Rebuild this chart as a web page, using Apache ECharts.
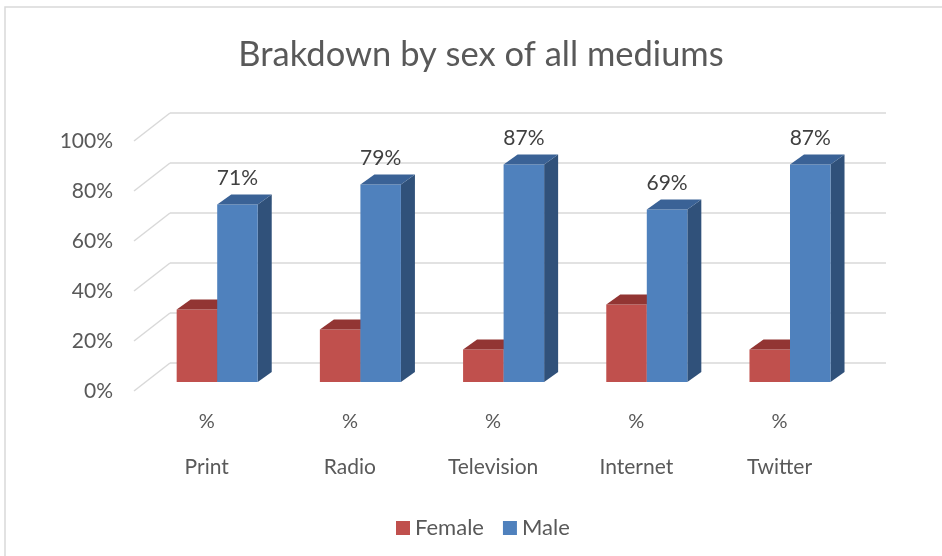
<!DOCTYPE html>
<html>
<head>
<meta charset="utf-8">
<script src="https://cdn.jsdelivr.net/npm/echarts@6/dist/echarts.min.js"></script>
<style>
  html, body { margin: 0; padding: 0; background: #ffffff; }
  #chart { width: 942px; height: 556px; }
</style>
</head>
<body>
<div id="chart"></div>
<script>
// Share of each medium's coverage, by sex (percent)
const categories = ['Print', 'Radio', 'Television', 'Internet', 'Twitter'];
const unitRow = ['%', '%', '%', '%', '%'];
const female = [29, 21, 13, 31, 13];
const male = [71, 79, 87, 69, 87];
const yTicks = [0, 20, 40, 60, 80, 100];

const FONT = 'Lato, "Open Sans", sans-serif';
const TEXT = '#595959';

// Pseudo-3D geometry: the cartesian grid is the plane of the bars' front faces.
const WALL_BACK = [24.4, -19];   // back wall relative to bar plane
const WALL_FRONT = [-11.6, 9];   // front edge of side wall relative to bar plane
const BAR_DEPTH = [14, -10];     // extrusion of each column
const BAR_FRAC = 0.283;          // column width as share of a category band

const FEMALE_COLORS = { front: '#C0504D', top: '#923533', side: '#7A2C2A' };
const MALE_COLORS = { front: '#4F81BD', top: '#3A6296', side: '#30517A' };

function columnRenderer(side, colors, withLabel) {
  return function (params, api) {
    const i = api.value(0);
    const v = api.value(1);
    const top = api.coord([i, v]);
    const base = api.coord([i, 0]);
    const w = api.size([1, 0])[0] * BAR_FRAC;
    const x0 = side === 0 ? top[0] - w : top[0];
    const x1 = x0 + w;
    const yt = top[1];
    const yb = base[1];
    const dx = BAR_DEPTH[0], dy = BAR_DEPTH[1];
    const children = [
      { type: 'polygon', shape: { points: [[x1, yb], [x1, yt], [x1 + dx, yt + dy], [x1 + dx, yb + dy]] },
        style: { fill: colors.side } },
      { type: 'rect', shape: { x: x0, y: yt, width: w, height: yb - yt },
        style: { fill: colors.front } },
      { type: 'polygon', shape: { points: [[x0, yt], [x1, yt], [x1 + dx, yt + dy], [x0 + dx, yt + dy]] },
        style: { fill: colors.top } }
    ];
    if (withLabel) {
      children.push({
        type: 'text',
        style: {
          text: v + '%', x: (x0 + x1) / 2, y: yt - 26,
          align: 'center', verticalAlign: 'middle',
          fontSize: 21, fontFamily: FONT, fill: '#404040'
        }
      });
    }
    return { type: 'group', children: children };
  };
}

// Side wall / back wall gridlines plus the value labels on the front edge
function wallRenderer(params, api) {
  const cs = params.coordSys;
  const v = api.value(1);
  const y = api.coord([0, v])[1];
  const xl = cs.x, xr = cs.x + cs.width;
  const lineStyle = { stroke: '#D9D9D9', lineWidth: 1.5 };
  return {
    type: 'group',
    children: [
      { type: 'line', shape: { x1: xl + WALL_FRONT[0], y1: y + WALL_FRONT[1], x2: xl + WALL_BACK[0], y2: y + WALL_BACK[1] },
        style: lineStyle },
      { type: 'line', shape: { x1: xl + WALL_BACK[0], y1: y + WALL_BACK[1], x2: xr + WALL_BACK[0], y2: y + WALL_BACK[1] },
        style: lineStyle },
      { type: 'text',
        style: {
          text: v + '%', x: xl + WALL_FRONT[0] - 21, y: y + WALL_FRONT[1],
          align: 'right', verticalAlign: 'middle',
          fontSize: 21, fontFamily: FONT, fill: TEXT
        } }
    ]
  };
}

const chart = echarts.init(document.getElementById('chart'), null, { renderer: 'canvas' });

chart.setOption({
  animation: false,
  backgroundColor: '#ffffff',
  graphic: [{
    type: 'rect', silent: true, z: -10,
    shape: { x: 5, y: 7, width: 1000, height: 600 },
    style: { fill: 'none', stroke: '#D9D9D9', lineWidth: 1.5 }
  }],
  title: {
    text: 'Brakdown by sex of all mediums',
    left: 476, top: 32, textAlign: 'center',
    textStyle: { fontSize: 34.5, fontWeight: 'normal', color: TEXT, fontFamily: FONT }
  },
  legend: {
    data: ['Female', 'Male'],
    left: 391, top: 512,
    icon: 'rect', itemWidth: 14, itemHeight: 14, itemGap: 19,
    textStyle: { fontSize: 22, color: TEXT, fontFamily: FONT }
  },
  grid: { left: 145.6, top: 132, width: 716, height: 250 },
  xAxis: {
    type: 'category',
    data: categories,
    axisLine: { show: false },
    axisTick: { show: false },
    splitLine: { show: false },
    axisLabel: {
      interval: 0, margin: 19, padding: [0, 21, 0, 0],
      formatter: function (name, idx) { return '{u|' + unitRow[idx] + '}\n{c|' + name + '}'; },
      rich: {
        u: { lineHeight: 41, fontSize: 20, color: TEXT, fontFamily: FONT },
        c: { lineHeight: 50, fontSize: 21, color: TEXT, fontFamily: FONT }
      }
    }
  },
  yAxis: {
    type: 'value', min: 0, max: 100, interval: 20,
    axisLine: { show: false },
    axisTick: { show: false },
    splitLine: { show: false },
    axisLabel: { show: false }
  },
  series: [
    {
      type: 'custom', name: 'walls', silent: true, z: 1,
      renderItem: wallRenderer,
      data: yTicks.map(function (v) { return [0, v]; })
    },
    {
      type: 'custom', name: 'Female', z: 2,
      itemStyle: { color: FEMALE_COLORS.front },
      renderItem: columnRenderer(0, FEMALE_COLORS, false),
      data: female.map(function (v, i) { return [i, v]; })
    },
    {
      type: 'custom', name: 'Male', z: 3,
      itemStyle: { color: MALE_COLORS.front },
      renderItem: columnRenderer(1, MALE_COLORS, true),
      data: male.map(function (v, i) { return [i, v]; })
    }
  ]
});
</script>
</body>
</html>
